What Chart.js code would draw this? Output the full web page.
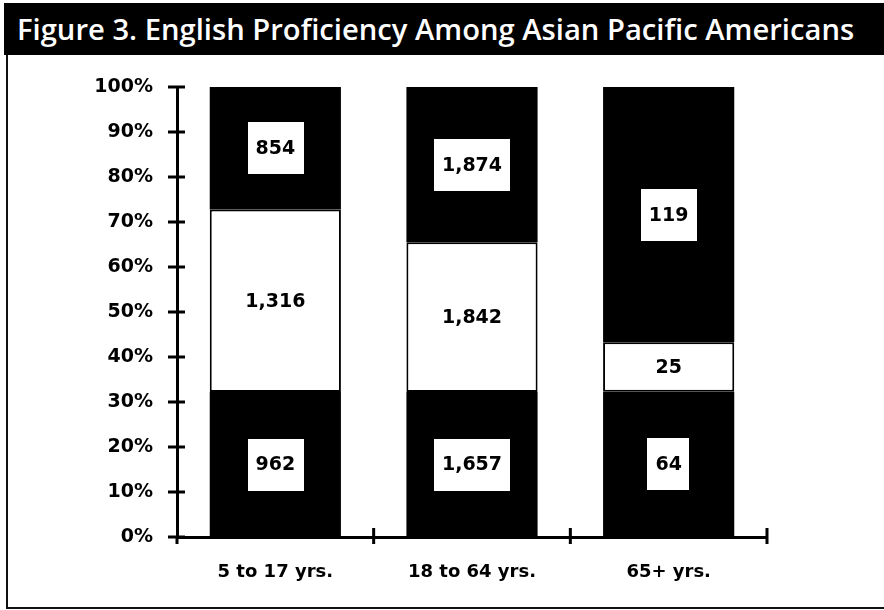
<!DOCTYPE html>
<html>
<head>
<meta charset="utf-8">
<title>Figure 3. English Proficiency Among Asian Pacific Americans</title>
<script src="https://cdn.jsdelivr.net/npm/chart.js@4"></script>
<style>
  html, body { margin: 0; padding: 0; background: #fff; }
  .page { position: relative; width: 884px; height: 610px; overflow: hidden; }
  .title-bar {
    position: absolute; left: 4px; top: 3px; width: 880px; height: 52px;
    background: #000; color: #fff;
    font-family: "Open Sans", sans-serif; font-weight: 600; font-size: 29.2px;
    line-height: 52px; padding-left: 13px; box-sizing: border-box; white-space: nowrap;
  }
  .frame {
    position: absolute; left: 6px; top: 55px; width: 878px; height: 552px;
    border-left: 2px solid #111; border-bottom: 2px solid #111;
  }
  #chart { position: absolute; left: 0; top: 0; }
</style>
</head>
<body>
<div class="page">
  <div class="frame"></div>
  <canvas id="chart" width="884" height="610"></canvas>
  <div class="title-bar">Figure 3. English Proficiency Among Asian Pacific Americans</div>
</div>
<script>
// ---------- Data ----------
const CATEGORIES = ["5 to 17 yrs.", "18 to 64 yrs.", "65+ yrs."];

// share of each age group (percent)
const BOTTOM_SHARE = [32.2, 32.2, 32.3];
const MIDDLE_SHARE = [40.6, 33.3, 11.0];
const TOP_SHARE    = [27.2, 34.5, 56.7];

// counts printed inside the segments
const BOTTOM_COUNTS = [962, 1657, 64];
const MIDDLE_COUNTS = [1316, 1842, 25];
const TOP_COUNTS    = [854, 1874, 119];

const Y_TICKS = [0, 10, 20, 30, 40, 50, 60, 70, 80, 90, 100];

const FONT = "DejaVu Sans";

// ---------- Cross ticks on both axes ----------
const crossTicks = {
  id: "crossTicks",
  afterDatasetsDraw(chart) {
    const { ctx, scales: { x, y } } = chart;
    const axisX = y.right;
    const axisY = y.getPixelForValue(0);
    ctx.save();
    ctx.strokeStyle = "#000";
    ctx.lineWidth = 3;
    ctx.beginPath();
    Y_TICKS.forEach(v => {
      const py = y.getPixelForValue(v);
      ctx.moveTo(axisX - 9, py);
      ctx.lineTo(axisX + 8, py);
    });
    // axis runs a little past the origin
    ctx.moveTo(axisX, axisY);
    ctx.lineTo(axisX, axisY + 7);
    const n = CATEGORIES.length;
    for (let i = 1; i <= n; i++) {
      const px = x.left + (x.right - x.left) * i / n;
      ctx.moveTo(px, axisY - 9);
      ctx.lineTo(px, axisY + 7);
    }
    ctx.stroke();
    ctx.restore();
  }
};

// ---------- Count labels in white boxes ----------
const countLabels = {
  id: "countLabels",
  afterDatasetsDraw(chart) {
    const { ctx } = chart;
    ctx.save();
    ctx.font = `bold 19px "${FONT}"`;
    ctx.textAlign = "center";
    ctx.textBaseline = "middle";
    chart.data.datasets.forEach((ds, di) => {
      chart.getDatasetMeta(di).data.forEach((bar, i) => {
        const text = ds.counts[i].toLocaleString("en-US");
        const cy = (bar.y + bar.base) / 2;
        if (ds.boxed) {
          const w = ctx.measureText(text).width + 16;
          ctx.fillStyle = "#fff";
          ctx.fillRect(Math.round(bar.x - w / 2), Math.round(cy - 26), Math.round(w), 52);
        }
        ctx.fillStyle = "#000";
        ctx.fillText(text, bar.x, cy + 1);
      });
    });
    ctx.restore();
  }
};

// ---------- Chart ----------
new Chart(document.getElementById("chart"), {
  type: "bar",
  data: {
    labels: CATEGORIES,
    datasets: [
      { data: BOTTOM_SHARE, counts: BOTTOM_COUNTS, boxed: true,
        backgroundColor: "#000", borderWidth: 0 },
      { data: MIDDLE_SHARE, counts: MIDDLE_COUNTS, boxed: false,
        backgroundColor: "#fff", borderColor: "#000", borderWidth: 2, borderSkipped: false },
      { data: TOP_SHARE, counts: TOP_COUNTS, boxed: true,
        backgroundColor: "#000", borderWidth: 0 }
    ]
  },
  options: {
    responsive: false,
    animation: false,
    barPercentage: 1,
    categoryPercentage: 0.667,
    layout: { padding: { left: 77, right: 117, top: 87, bottom: 23 } },
    plugins: { legend: { display: false }, tooltip: { enabled: false } },
    scales: {
      x: {
        stacked: true,
        grid: { display: false, drawTicks: false },
        border: { display: true, color: "#000", width: 3 },
        ticks: { color: "#000", padding: 25, font: { family: FONT, size: 18, weight: "bold" } },
        afterFit(s) { s.height = 50; }
      },
      y: {
        stacked: true,
        min: 0, max: 100,
        grid: { display: false, drawTicks: false },
        border: { display: true, color: "#000", width: 3 },
        ticks: {
          stepSize: 10, color: "#000", padding: 24,
          font: { family: FONT, size: 19, weight: "bold" },
          callback: v => v + "%"
        },
        afterFit(s) { s.width = 100; }
      }
    }
  },
  plugins: [crossTicks, countLabels]
});
</script>
</body>
</html>
